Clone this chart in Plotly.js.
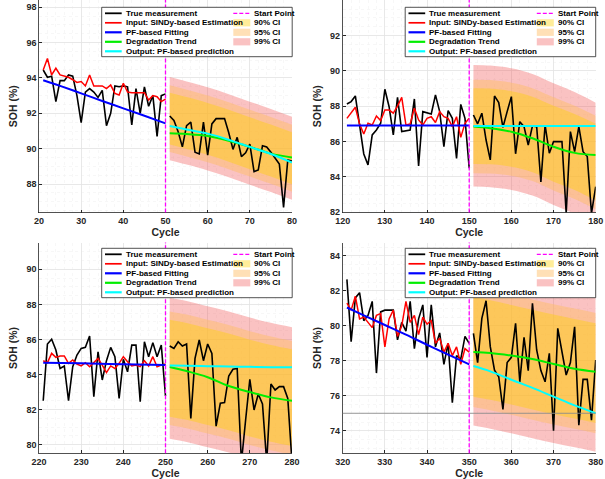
<!DOCTYPE html>
<html><head><meta charset="utf-8">
<script src="https://cdn.plot.ly/plotly-3.0.1.min.js"></script>
<style>html,body{margin:0;padding:0;background:#fff}#chart{width:605px;height:479px}</style>
</head><body><div id="chart"></div>
<script>
// ---------------- DATA ----------------
// Panel 1
const p1TrainStart = 21, p1TestStart = 51;
const p1TrueTrain = [94.45,94.04,94.1,92.66,93.85,93.85,94.17,94.1,93.0,91.47,93.2,93.4,93.2,92.9,93.3,91.3,92.0,93.55,93.5,93.55,93.5,91.34,93.4,92.0,93.5,92.4,93.0,90.7,93.0,93.1];
const p1Sindy = [94.45,95.1,94.17,94.55,94.17,94.1,94.04,93.9,93.75,93.8,93.55,94.17,93.55,93.55,93.55,93.4,93.6,93.13,93.04,93.7,93.2,93.17,93.17,93.2,93.17,92.75,93.0,92.94,92.66,92.8];
const p1TrueTest = [91.85,91.6,90.96,90.1,91.3,91.5,89.8,89.7,91.5,89.64,91.4,91.7,91.7,91.7,90.9,89.96,90.64,89.55,89.77,90.26,88.7,88.8,90.17,90.1,89.8,89.45,89.13,86.68,89.36,89.3];
const p1FitCycles = [21,25,30,35,40,45,50];
const p1Fit = [93.87,93.55,93.13,92.7,92.28,91.86,91.43];
const p1PredCycles = [51,55,60,65,70,75,80];
const p1Pred = [91.28,91.08,90.85,90.5,90.1,89.7,89.22];
const p1Trend = [90.87,90.83,90.72,90.45,90.1,89.72,89.5];
const p1Up99 = [94.05,93.8,93.47,93.08,92.66,92.25,91.81];
const p1Up95 = [93.59,93.34,93.01,92.62,92.2,91.79,91.35];
const p1Up90 = [93.17,92.92,92.59,92.2,91.78,91.37,90.93];
const p1Lo90 = [90.23,89.98,89.65,89.26,88.84,88.43,87.99];
const p1Lo95 = [89.81,89.56,89.23,88.84,88.42,88.01,87.57];
const p1Lo99 = [89.35,89.1,88.77,88.38,87.96,87.55,87.11];

// Panel 2
const p2TrainStart = 121, p2TestStart = 151;
const p2TrueTrain = [88.12,88.26,88.58,86.88,85.29,84.67,86.37,86.65,87.03,88.96,87.97,86.37,88.5,86.56,86.61,86.65,88.41,84.61,87.69,87.63,87.56,88.64,87.69,85.7,87.75,87.31,85.04,88.1,87.31,84.48];
const p2Sindy = [87.31,87.6,87.94,86.99,86.42,87.03,86.93,87.44,87.18,87.78,87.78,87.6,88.0,88.5,86.93,86.99,87.88,87.22,86.93,87.31,87.4,87.07,87.69,87.4,87.31,86.84,87.4,86.23,87.03,87.31];
const p2TrueTest = [87.5,87.0,87.6,86.08,84.95,88.58,88.2,86.8,87.69,88.54,85.3,87.12,86.84,85.8,86.88,86.84,83.7,86.93,85.33,85.99,85.99,85.99,81.92,86.56,85.42,86.84,85.42,85.14,81.92,83.44];
const p2FitCycles = [121,130,140,150];
const p2Fit = [86.91,86.91,86.9,86.9];
const p2PredCycles = [151,155,160,165,170,175,180];
const p2Pred = [86.88,86.88,86.88,86.87,86.87,86.87,86.87];
const p2Trend = [86.84,86.75,86.55,86.18,85.7,85.35,85.23];
const p2Up99 = [90.34,90.3,90.15,89.83,89.3,88.8,88.2];
const p2Up95 = [89.5,89.48,89.33,89.02,88.5,88.02,87.45];
const p2Up90 = [89.02,89.0,88.85,88.54,88.02,87.55,87.0];
const p2Lo90 = [84.72,84.7,84.56,84.25,83.72,83.25,82.65];
const p2Lo95 = [84.2,84.18,84.05,83.75,83.22,82.73,82.15];
const p2Lo99 = [83.44,83.4,83.25,82.93,82.4,81.9,81.3];

// Panel 3
const p3TrainStart = 221, p3TestStart = 251;
const p3TrueTrain = [82.51,85.74,86.01,85.4,84.35,84.49,82.51,84.45,85.11,85.49,85.55,86.2,82.74,85.3,83.69,84.79,85.55,85.02,82.64,84.87,84.16,85.68,85.68,82.45,85.87,85.02,85.82,85.02,85.68,82.78];
const p3Sindy = [84.79,84.68,85.21,84.98,85.06,85.06,84.64,84.83,84.6,84.49,84.68,84.45,84.68,84.92,84.54,84.11,84.49,84.35,84.64,85.02,84.73,84.49,84.54,84.45,84.79,84.49,85.02,84.45,84.54,84.6];
const p3TrueTest = [85.63,85.49,85.87,85.63,85.74,81.5,84.92,85.97,84.79,85.74,85.21,81.06,82.36,82.4,83.92,84.3,84.35,79.0,81.41,83.73,81.98,82.89,82.32,79.0,83.46,83.12,83.31,83.31,82.64,79.0];
const p3FitCycles = [221,230,240,250];
const p3Fit = [84.68,84.64,84.59,84.54];
const p3PredCycles = [251,255,260,265,270,275,280];
const p3Pred = [84.52,84.5,84.48,84.46,84.44,84.42,84.41];
const p3Trend = [84.43,84.2,83.85,83.35,83.0,82.7,82.5];
const p3Up99 = [88.38,88.2,87.9,87.6,87.25,86.95,86.7];
const p3Up95 = [87.6,87.42,87.12,86.82,86.47,86.17,85.92];
const p3Up90 = [87.12,86.94,86.64,86.34,85.99,85.69,85.44];
const p3Lo90 = [81.6,81.42,81.12,80.82,80.47,80.17,79.92];
const p3Lo95 = [81.12,80.94,80.64,80.34,79.99,79.69,79.44];
const p3Lo99 = [80.34,80.16,79.86,79.56,79.21,78.91,78.66];

// Panel 4
const p4TrainStart = 321, p4TestStart = 351;
const p4TrueTrain = [82.66,79.1,81.6,81.9,80.3,80.6,81.4,77.3,80.8,80.9,80.9,80.9,79.2,80.2,79.7,81.4,78.7,80.4,81.2,78.2,81.2,78.8,79.6,77.8,79.0,75.6,78.3,78.1,79.4,79.0];
const p4Sindy = [81.3,80.9,81.7,80.4,80.5,80.2,79.9,80.6,80.7,78.8,80.4,80.9,79.4,80.0,81.4,80.2,80.6,79.5,80.5,80.1,80.3,79.0,79.3,78.5,79.0,78.3,78.8,77.8,78.7,78.5];
const p4TrueTest = [79.57,77.9,80.43,81.44,78.81,77.47,77.09,75.22,77.9,78.2,80.15,76.8,79.34,77.44,81.29,78.62,77.44,76.8,78.43,74.0,79.86,78.62,77.19,77.9,79.95,74.32,76.94,76.94,74.61,78.05];
const p4FitCycles = [321,325,330,335,340,345,350];
const p4Fit = [81.05,80.6,80.05,79.5,78.92,78.35,77.8];
const p4PredCycles = [351,355,360,365,370,375,380];
const p4Pred = [77.7,77.4,76.92,76.45,75.95,75.45,75.0];
const p4Trend = [78.5,78.45,78.3,78.1,77.82,77.55,77.38];
const p4Up99 = [83.3,83.12,82.85,82.57,82.3,82.05,81.8];
const p4Up95 = [82.24,82.06,81.79,81.51,81.24,80.99,80.74];
const p4Up90 = [81.65,81.47,81.2,80.92,80.65,80.4,80.15];
const p4Lo90 = [75.95,75.77,75.5,75.22,74.95,74.7,74.45];
const p4Lo95 = [75.36,75.18,74.91,74.63,74.36,74.11,73.86];
const p4Lo99 = [74.3,74.12,73.85,73.57,73.3,73.05,72.8];

const startCycles = [50, 150, 250, 350];
const eolThreshold = 75;   // shown in panel 4
const xRanges = [[20,80],[120,180],[220,280],[320,380]];
const yRanges = [[86.39,98.41],[81.97,94.02],[79.51,91.53],[72.71,84.77]];
const yTick0 = [88, 82, 80, 74];

const seriesNames = ['True measurement','Input: SINDy-based Estimation','PF-based Fitting','Degradation Trend','Output: PF-based prediction'];
const ciNames = ['90% CI','95% CI','99% CI'];
const startName = 'Start Point';

// ---------------- STYLE ----------------
const FONT = 'Liberation Sans, Arial, Helvetica, sans-serif';
const colTrue = '#000000', colSindy = '#ff0000', colFit = '#0000ff', colTrend = '#00ee00', colPred = '#00ffff', colStart = '#ff00ff';
const ci90 = 'rgba(255,210,0,0.4)', ci95 = 'rgba(255,190,100,0.47)', ci99 = 'rgba(240,80,80,0.35)';
const seriesColors = [colTrue, colSindy, colFit, colTrend, colPred];
const seriesWidths = [1.6, 1.5, 2, 2, 2];
const ciColors = [ci90, ci95, ci99];
const TICKSIZE = 9, TITLESIZE = 10.5, LEGSIZE = 8;

function seq(start, n){ const a=[]; for(let i=0;i<n;i++) a.push(start+i); return a; }

const panels = [
 {trS:p1TrainStart,teS:p1TestStart,tt:p1TrueTrain,si:p1Sindy,te:p1TrueTest,fc:p1FitCycles,fi:p1Fit,pc:p1PredCycles,pr:p1Pred,tr:p1Trend,u99:p1Up99,u95:p1Up95,u90:p1Up90,l90:p1Lo90,l95:p1Lo95,l99:p1Lo99},
 {trS:p2TrainStart,teS:p2TestStart,tt:p2TrueTrain,si:p2Sindy,te:p2TrueTest,fc:p2FitCycles,fi:p2Fit,pc:p2PredCycles,pr:p2Pred,tr:p2Trend,u99:p2Up99,u95:p2Up95,u90:p2Up90,l90:p2Lo90,l95:p2Lo95,l99:p2Lo99},
 {trS:p3TrainStart,teS:p3TestStart,tt:p3TrueTrain,si:p3Sindy,te:p3TrueTest,fc:p3FitCycles,fi:p3Fit,pc:p3PredCycles,pr:p3Pred,tr:p3Trend,u99:p3Up99,u95:p3Up95,u90:p3Up90,l90:p3Lo90,l95:p3Lo95,l99:p3Lo99},
 {trS:p4TrainStart,teS:p4TestStart,tt:p4TrueTrain,si:p4Sindy,te:p4TrueTest,fc:p4FitCycles,fi:p4Fit,pc:p4PredCycles,pr:p4Pred,tr:p4Trend,u99:p4Up99,u95:p4Up95,u90:p4Up90,l90:p4Lo90,l95:p4Lo95,l99:p4Lo99}
];

// pixel layout of the four axes boxes
const W = 605, H = 479;
const boxes = [
  {x0:39, x1:292, y0:0, y1:212.5},
  {x0:342.7, x1:595.7, y0:0, y1:212.5},
  {x0:39, x1:292, y0:242.5, y1:453.3},
  {x0:342.7, x1:595.7, y0:242.5, y1:453.3}
];
const legBoxes = [{l:101.7,t:7.3},{l:405.2,t:7.3},{l:101.7,t:248.3},{l:405.2,t:248.3}];
const px = x => x / W, py = y => 1 - y / H;

const traces = [];
const shapes = [];
const annotations = [];
const layout = {
  width: W, height: H, margin: {l:0, r:0, t:0, b:0},
  paper_bgcolor: '#ffffff', plot_bgcolor: '#ffffff',
  showlegend: false,
  font: {family: FONT, color: '#262626'}
};

panels.forEach((p, i) => {
  const k = i === 0 ? '' : String(i + 1);
  const xa = 'x' + k, ya = 'y' + k;
  const common = {xaxis: xa, yaxis: ya, hoverinfo: 'skip', showlegend: false};
  // CI bands
  const bands = [[p.l99, p.u99, ci99], [p.l95, p.u95, ci95], [p.l90, p.u90, ci90]];
  bands.forEach(b => {
    traces.push(Object.assign({x: p.pc, y: b[0], mode: 'lines', line: {width: 0, shape: 'spline'}}, common));
    traces.push(Object.assign({x: p.pc, y: b[1], mode: 'lines', fill: 'tonexty', fillcolor: b[2], line: {width: 0, shape: 'spline'}}, common));
  });
  const trainX = seq(p.trS, p.tt.length), testX = seq(p.teS, p.te.length);
  traces.push(Object.assign({x: trainX, y: p.tt, mode: 'lines', name: seriesNames[0], line: {color: colTrue, width: seriesWidths[0]}}, common));
  traces.push(Object.assign({x: testX, y: p.te, mode: 'lines', name: seriesNames[0], line: {color: colTrue, width: seriesWidths[0]}}, common));
  traces.push(Object.assign({x: trainX, y: p.si, mode: 'lines', name: seriesNames[1], line: {color: colSindy, width: seriesWidths[1]}}, common));
  traces.push(Object.assign({x: p.fc, y: p.fi, mode: 'lines', name: seriesNames[2], line: {color: colFit, width: seriesWidths[2], shape: 'spline'}}, common));
  traces.push(Object.assign({x: p.pc, y: p.tr, mode: 'lines', name: seriesNames[3], line: {color: colTrend, width: seriesWidths[3], shape: 'spline'}}, common));
  traces.push(Object.assign({x: p.pc, y: p.pr, mode: 'lines', name: seriesNames[4], line: {color: colPred, width: seriesWidths[4], shape: 'spline'}}, common));

  const bx = boxes[i];
  const axX = {
    domain: [px(bx.x0), px(bx.x1)], range: xRanges[i], anchor: ya,
    tick0: xRanges[i][0], dtick: 10, ticks: 'inside', ticklen: 3, tickcolor: '#262626',
    showline: true, linecolor: '#262626', linewidth: 0.8, mirror: false,
    showgrid: true, gridcolor: '#e2e2e2', gridwidth: 0.8, zeroline: false,
    minor: {dtick: 2, showgrid: true, gridcolor: '#f1f1f1', gridwidth: 0.6, griddash: 'dot'},
    tickfont: {family: FONT, size: TICKSIZE, color: '#262626', weight: 'bold'},
    automargin: false,
    title: {text: 'Cycle', font: {family: FONT, size: TITLESIZE, color: '#262626', weight: 'bold'}, standoff: 3}
  };
  const axY = {
    domain: [py(bx.y1), py(bx.y0)], range: yRanges[i], anchor: xa,
    tick0: yTick0[i], dtick: 2, ticks: 'inside', ticklen: 3, tickcolor: '#262626',
    showline: true, linecolor: '#262626', linewidth: 0.8, mirror: false,
    showgrid: true, gridcolor: '#e2e2e2', gridwidth: 0.8, zeroline: false,
    minor: {dtick: 0.5, showgrid: true, gridcolor: '#f1f1f1', gridwidth: 0.6, griddash: 'dot'},
    tickfont: {family: FONT, size: TICKSIZE, color: '#262626', weight: 'bold'},
    automargin: false,
    title: {text: 'SOH (%)', font: {family: FONT, size: TITLESIZE, color: '#262626', weight: 'bold'}, standoff: 6}
  };
  layout['xaxis' + k] = axX;
  layout['yaxis' + k] = axY;

  // start point line
  shapes.push({type: 'line', xref: xa, yref: ya + ' domain', x0: startCycles[i], x1: startCycles[i], y0: 0, y1: 1,
    line: {color: colStart, width: 1.3, dash: '4px,2px'}, layer: 'above'});
  if (i === 3 && eolThreshold > yRanges[i][0] && eolThreshold < yRanges[i][1]) {
    shapes.push({type: 'line', xref: xa + ' domain', yref: ya, x0: 0, x1: 1, y0: eolThreshold, y1: eolThreshold,
      line: {color: '#8c8c8c', width: 0.9}, layer: 'above'});
  }
});

// legends (drawn as boxes with samples + real text)
const rowOff = [6, 15.5, 25, 34.5, 44];
const legW = 190.5, legH = 49.4;
legBoxes.forEach(lb => {
  shapes.push({type: 'rect', xref: 'paper', yref: 'paper', x0: px(lb.l), x1: px(lb.l + legW), y0: py(lb.t + legH), y1: py(lb.t),
    fillcolor: '#ffffff', line: {color: '#262626', width: 0.8}, layer: 'above'});
  seriesNames.forEach((nm, j) => {
    const yy = lb.t + rowOff[j];
    shapes.push({type: 'line', xref: 'paper', yref: 'paper', x0: px(lb.l + 3.3), x1: px(lb.l + 20), y0: py(yy), y1: py(yy),
      line: {color: seriesColors[j], width: seriesWidths[j] + 0.2}, layer: 'above'});
    annotations.push({xref: 'paper', yref: 'paper', x: px(lb.l + 22), y: py(yy), xanchor: 'left', yanchor: 'middle',
      text: nm, showarrow: false, font: {family: FONT, size: LEGSIZE, color: '#000000', weight: 'bold'}});
  });
  let yy = lb.t + rowOff[0];
  shapes.push({type: 'line', xref: 'paper', yref: 'paper', x0: px(lb.l + 131.6), x1: px(lb.l + 149), y0: py(yy), y1: py(yy),
    line: {color: colStart, width: 1.3, dash: '4px,2px'}, layer: 'above'});
  annotations.push({xref: 'paper', yref: 'paper', x: px(lb.l + 150.3), y: py(yy), xanchor: 'left', yanchor: 'middle',
    text: startName, showarrow: false, font: {family: FONT, size: LEGSIZE, color: '#000000', weight: 'bold'}});
  ciNames.forEach((nm, j) => {
    const y2 = lb.t + rowOff[j + 1];
    shapes.push({type: 'rect', xref: 'paper', yref: 'paper', x0: px(lb.l + 131.6), x1: px(lb.l + 148.6), y0: py(y2 + 3.6), y1: py(y2 - 3.6),
      fillcolor: ciColors[j], line: {width: 0}, layer: 'above'});
    annotations.push({xref: 'paper', yref: 'paper', x: px(lb.l + 150.3), y: py(y2), xanchor: 'left', yanchor: 'middle',
      text: nm, showarrow: false, font: {family: FONT, size: LEGSIZE, color: '#000000', weight: 'bold'}});
  });
});

layout.shapes = shapes;
layout.annotations = annotations;

Plotly.newPlot('chart', traces, layout, {staticPlot: true, displayModeBar: false});
</script>
</body></html>
